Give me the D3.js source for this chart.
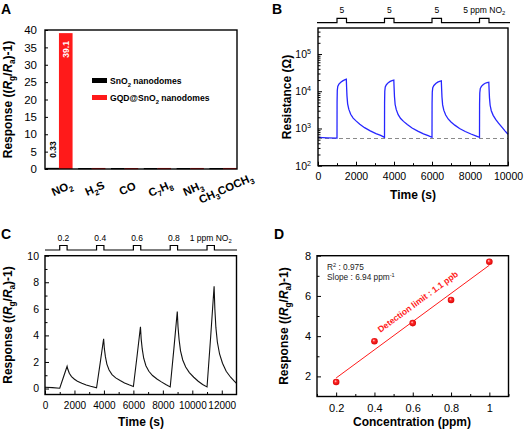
<!DOCTYPE html>
<html><head><meta charset="utf-8">
<script src="https://cdn.jsdelivr.net/npm/d3@7"></script>
<style>body{margin:0;background:#fff}svg{display:block}</style>
</head><body><svg id="c" width="524" height="431"></svg>
<script>
// ---------------- DATA ----------------
// Panel A
const gasLabels = ["NO_2","H_2S","CO","C_7H_8","NH_3","CH_3COCH_3"];
const sno2Values = [0.33, 0.15, 0.12, 0.12, 0.12, 0.12];
const gqdValues = [39.1, 0.3, 0.25, 0.3, 0.3, 0.3];
const legendNames = ["SnO_2 nanodomes", "GQD@SnO_2 nanodomes"];
const aYTicks = [0,5,10,15,20,25,30,35,40];
// Panel B
const bTime = [0,500,1000,
 1004,1015,1040,1100,1200,1300,1400,1490,1505,1525,1560,1620,1720,1850,2000,2200,2450,2750,3050,3300,3500,
 3504,3515,3540,3600,3700,3800,3900,3990,4005,4025,4060,4120,4220,4350,4500,4700,4950,5250,5550,5800,6000,
 6004,6015,6040,6100,6200,6300,6400,6490,6505,6525,6560,6620,6720,6850,7000,7200,7450,7750,8050,8300,8500,
 8504,8515,8540,8600,8700,8800,8900,8990,9005,9025,9060,9120,9220,9350,9500,9700,9850,10000];
const bResistance = [575,560,548,
 5000,10500,13500,15500,17500,19000,20200,21000,13000,7500,4600,3300,2400,1900,1600,1300,1050,860,730,650,575,
 4800,10000,13000,15000,17000,18400,19400,20000,12500,7200,4400,3200,2350,1850,1550,1270,1030,850,720,640,580,
 4600,9500,12500,14300,16200,17600,18500,19000,12000,7000,4300,3100,2300,1800,1500,1230,1000,830,710,630,575,
 4400,9000,11800,13500,15200,16400,17100,17500,11200,6700,4200,3000,2250,1750,1400,1050,850,700];
const bBaseline = 540;
const bPulseStarts = [1000,3500,6000,8500];
const bPulseLabels = ["5","5","5","5 ppm NO_2"];
const bXTicks = [0,2000,4000,6000,8000,10000];
const bYTicks = [1e2,1e3,1e4,1e5];
// Panel C
const cTime = [0,500,1000,1250,1500,1550,1650,1800,2000,2200,2500,2800,3100,3500,
 3750,3980,4030,4100,4200,4350,4550,4800,5100,5400,5700,6000,
 6250,6480,6530,6600,6700,6850,7050,7300,7600,7900,8200,8500,
 8750,8980,9030,9100,9200,9350,9550,9800,10100,10400,10700,11000,
 11250,11480,11530,11600,11700,11850,12050,12300,12600,12850,13000];
const cResponse = [0.1,0.07,0.02,0.85,1.68,1.45,1.15,0.9,0.7,0.55,0.4,0.27,0.17,0.05,
 1.95,3.75,3.0,2.4,1.84,1.39,1.05,0.8,0.6,0.42,0.28,0.15,
 2.45,4.65,3.72,2.98,2.28,1.72,1.3,0.98,0.72,0.5,0.3,0.12,
 3.0,5.8,4.64,3.71,2.84,2.15,1.62,1.2,0.85,0.55,0.3,0.12,
 3.95,7.7,6.0,4.6,3.5,2.6,1.9,1.3,0.85,0.55,0.38];
const cPulseStarts = [1000,3500,6000,8500,11000];
const cPulseLabels = ["0.2","0.4","0.6","0.8","1 ppm NO_2"];
const cXTicks = [0,2000,4000,6000,8000,10000,12000];
const cYTicks = [0,2,4,6,8,10];
// Panel D
const dConc = [0.2,0.4,0.6,0.8,1.0];
const dResponse = [1.72,3.75,4.65,5.8,7.7];
const dXTicks = [0.2,0.4,0.6,0.8,1];
const dYTicks = [2,4,6,8];

// ---------------- HELPERS ----------------
const FONT = "Arial, 'Liberation Sans', Helvetica, sans-serif";
const svg = d3.select("#c").attr("font-family", FONT);
const fmtInt = d3.format("d"), fmtG = d3.format("~g");

function parseRich(str){ // _x subscript, ^x superscript (^{..} group)
  const segs=[]; let buf="";
  for(let i=0;i<str.length;i++){
    const ch=str[i];
    if(ch==="_"||ch==="^"){
      if(buf){segs.push([buf,"n"]);buf="";}
      let t;
      if(str[i+1]==="{"){const j=str.indexOf("}",i);t=str.slice(i+2,j);i=j;}
      else {t=str[i+1];i++;}
      segs.push([t, ch==="_"?"sub":"sup"]);
    } else buf+=ch;
  }
  if(buf) segs.push([buf,"n"]);
  return segs;
}
function rich(sel, segs, size){
  let shift=0;
  segs.forEach(([t,s])=>{
    const ts=sel.append("tspan").text(t);
    let target=0;
    if(s==="sub") target=size*0.28;
    if(s==="sup") target=-size*0.38;
    const dy=target-shift;
    if(dy) ts.attr("dy",dy);
    shift=target;
    if(s==="sub"||s==="sup") ts.attr("font-size",size*0.68);
    if(s==="i") ts.attr("font-style","italic");
  });
  return sel;
}
function label(x,y,str,size,opts={}){
  const t=svg.append("text").attr("x",x).attr("y",y).attr("font-size",size)
    .attr("text-anchor",opts.anchor||"start").attr("font-weight",opts.bold?"bold":"normal")
    .attr("fill",opts.fill||"#000");
  if(opts.rotate!==undefined) t.attr("transform",`rotate(${opts.rotate},${x},${y})`);
  if(Array.isArray(str)) rich(t,str,size); else rich(t,parseRich(str),size);
  return t;
}
const responseTitle = [["Response ((","n"],["R","i"],["g","sub"],["/","n"],["R","i"],["a","sub"],[")-1)","n"]];
function axis(gen, transform, fs){
  const a=svg.append("g").attr("transform",transform).call(gen);
  a.attr("font-size",fs).attr("font-family",FONT);
  a.select(".domain").remove();
  a.selectAll("text").attr("fill","#000");
  a.selectAll("line").attr("stroke","#000").attr("stroke-width",1);
  return a;
}
function frame(x0,x1,y0,y1){
  svg.append("rect").attr("x",x0).attr("y",y0).attr("width",x1-x0).attr("height",y1-y0)
    .attr("fill","none").attr("stroke","#000").attr("stroke-width",1.4);
}
function pulses(x, starts, dur, labels, yLine, yHigh, x0, x1, labelY){
  let p=`M${x0},${yLine}`;
  starts.forEach(s=>{p+=`L${x(s)},${yLine}L${x(s)},${yHigh}L${x(s+dur)},${yHigh}L${x(s+dur)},${yLine}`;});
  p+=`L${x1},${yLine}`;
  svg.append("path").attr("d",p).attr("fill","none").attr("stroke","#000").attr("stroke-width",1.2);
  starts.forEach((s,i)=>label(x(s+dur/2),labelY,labels[i],8.5,{anchor:"middle"}));
}

// ---------------- PANEL A ----------------
{
  const x=d3.scaleBand().domain(gasLabels).range([45,237]).paddingInner(0.17).paddingOuter(0.01);
  const xs=d3.scaleBand().domain([0,1]).range([0,x.bandwidth()]);
  const y=d3.scaleLinear().domain([0,40]).range([169,30]);
  const colors=["#000000","#ff1a1a"];
  [sno2Values,gqdValues].forEach((vals,k)=>{
    svg.append("g").selectAll("rect").data(gasLabels).join("rect")
      .attr("x",d=>x(d)+xs(k)).attr("width",xs.bandwidth())
      .attr("y",(d,i)=>Math.min(y(vals[i]),168))
      .attr("height",(d,i)=>Math.max(169-y(vals[i]),1.2))
      .attr("fill",colors[k]);
  });
  frame(45,237,30,169);
  axis(d3.axisLeft(y).tickValues(aYTicks).tickSize(-3).tickPadding(8),"translate(45,0)",11.5);
  // value labels
  label(x(gasLabels[0])+xs(0)+xs.bandwidth()/2+3.5, y(sno2Values[0])-10, "0.33", 8.5,{bold:true,rotate:-90});
  label(x(gasLabels[0])+xs(1)+xs.bandwidth()/2+3.5, y(gqdValues[0])+8, "39.1", 8.5,{bold:true,rotate:-90,anchor:"end",fill:"#fff"});
  // x labels
  gasLabels.forEach(g=>label(x(g)+x.bandwidth()/2+4.5,192,g,11.3,{bold:true,anchor:"middle",rotate:-24}));
  // legend
  [0,1].forEach(k=>{
    svg.append("rect").attr("x",92).attr("y",78+k*17).attr("width",15).attr("height",5).attr("fill",colors[k]);
    label(110,84.3+k*17,legendNames[k],8.6,{bold:true});
  });
  label(12,99.5,responseTitle,12,{bold:true,anchor:"middle",rotate:-90});
  label(1,14,"A",14,{bold:true});
}

// ---------------- PANEL B ----------------
{
  const x=d3.scaleLinear().domain([0,10000]).range([318,508]);
  const y=d3.scaleLog().domain([1e2,5e5]).range([165.7,28]);
  svg.append("line").attr("x1",318).attr("x2",508).attr("y1",y(bBaseline)).attr("y2",y(bBaseline))
    .attr("stroke","#8a8a8a").attr("stroke-width",1.1).attr("stroke-dasharray","4,3");
  const pts=bTime.map((t,i)=>[t,bResistance[i]]);
  svg.append("path").attr("d",d3.line().x(d=>x(d[0])).y(d=>y(d[1]))(pts))
    .attr("fill","none").attr("stroke","#2626ff").attr("stroke-width",1.3);
  frame(318,508,28,165.7);
  axis(d3.axisBottom(x).tickValues(bXTicks).tickSize(-4).tickPadding(7).tickFormat(fmtInt),"translate(0,165.7)",10.5);
  axis(d3.axisBottom(x).tickValues([1000,3000,5000,7000,9000]).tickSize(-2.5).tickFormat(""),"translate(0,165.7)",10.5);
  const minor=[];
  [2,3,4,5].forEach(e=>{for(let m=2;m<=9;m++){const v=m*Math.pow(10,e);if(v<5e5) minor.push(v);}});
  axis(d3.axisLeft(y).tickValues(bYTicks).tickSize(-4).tickFormat(""),"translate(318,0)",10.5);
  axis(d3.axisLeft(y).tickValues(minor).tickSize(-2.5).tickFormat(""),"translate(318,0)",10.5);
  bYTicks.forEach(v=>label(311,y(v)+4,"10^"+Math.round(Math.log10(v)),10.5,{anchor:"end"}));
  pulses(x,bPulseStarts,500,bPulseLabels,22.7,18.3,317,510,12.8);
  label(413,199,"Time (s)",12,{bold:true,anchor:"middle"});
  label(291,97,"Resistance (Ω)",12,{bold:true,anchor:"middle",rotate:-90});
  label(272,14,"B",14,{bold:true});
}

// ---------------- PANEL C ----------------
{
  const x=d3.scaleLinear().domain([0,13000]).range([45,236.5]);
  const y=d3.scaleLinear().domain([-0.45,10]).range([394.5,255.7]);
  const pts=cTime.map((t,i)=>[t,cResponse[i]]);
  svg.append("path").attr("d",d3.line().x(d=>x(d[0])).y(d=>y(d[1]))(pts))
    .attr("fill","none").attr("stroke","#111").attr("stroke-width",1.1);
  frame(45,236.5,255.7,394.5);
  axis(d3.axisBottom(x).tickValues(cXTicks).tickSize(-4).tickPadding(7).tickFormat(fmtInt),"translate(0,394.5)",10);
  axis(d3.axisBottom(x).tickValues([1000,3000,5000,7000,9000,11000]).tickSize(-2.5).tickFormat(""),"translate(0,394.5)",10);
  axis(d3.axisLeft(y).tickValues(cYTicks).tickSize(-4).tickPadding(6).tickFormat(fmtInt),"translate(45,0)",10.5);
  axis(d3.axisLeft(y).tickValues([1,3,5,7,9]).tickSize(-2.5).tickFormat(""),"translate(45,0)",10.5);
  pulses(x,cPulseStarts,500,cPulseLabels,250,245.5,45,237,241);
  label(141,426,"Time (s)",12,{bold:true,anchor:"middle"});
  label(12,325,responseTitle,12,{bold:true,anchor:"middle",rotate:-90});
  label(1,239,"C",14,{bold:true});
}

// ---------------- PANEL D ----------------
{
  const x=d3.scaleLinear().domain([0.1,1.1]).range([317,508.5]);
  const y=d3.scaleLinear().domain([1,8]).range([396.5,255.7]);
  const defs=svg.append("defs");
  const gr=defs.append("radialGradient").attr("id","ball").attr("cx","50%").attr("cy","50%").attr("r","55%").attr("fx","38%").attr("fy","35%");
  gr.append("stop").attr("offset","0%").attr("stop-color","#ffe0e0");
  gr.append("stop").attr("offset","35%").attr("stop-color","#ff2a2a");
  gr.append("stop").attr("offset","100%").attr("stop-color","#d40000");
  // least-squares fit
  const mx=d3.mean(dConc), my=d3.mean(dResponse);
  const slope=d3.sum(dConc.map((c,i)=>(c-mx)*(dResponse[i]-my)))/d3.sum(dConc.map(c=>(c-mx)*(c-mx)));
  const icpt=my-slope*mx;
  svg.append("line").attr("x1",x(0.2)).attr("x2",x(1)).attr("y1",y(icpt+slope*0.2)).attr("y2",y(icpt+slope*1))
    .attr("stroke","#ff1a1a").attr("stroke-width",1);
  svg.append("g").selectAll("circle").data(dConc).join("circle")
    .attr("cx",d=>x(d)).attr("cy",(d,i)=>y(dResponse[i])).attr("r",3.3).attr("fill","url(#ball)");
  frame(317,508.5,255.7,396.5);
  axis(d3.axisBottom(x).tickValues(dXTicks).tickSize(-4).tickPadding(8).tickFormat(fmtG),"translate(0,396.5)",11);
  axis(d3.axisBottom(x).tickValues([0.1,0.3,0.5,0.7,0.9,1.1]).tickSize(-2.5).tickFormat(""),"translate(0,396.5)",11);
  axis(d3.axisLeft(y).tickValues(dYTicks).tickSize(-4).tickPadding(6).tickFormat(fmtG),"translate(317,0)",11);
  axis(d3.axisLeft(y).tickValues([3,5,7]).tickSize(-2.5).tickFormat(""),"translate(317,0)",11);
  label(327,270,"R^2 : 0.975",8.3,{fill:"#222"});
  label(327,280,"Slope : 6.94 ppm^{-1}",8.3,{fill:"#222"});
  const c0=0.667, px=x(c0), py=y(icpt+slope*c0);
  const ang=-Math.atan((y(icpt+slope*0.2)-y(icpt+slope*1))/(x(1)-x(0.2)))*180/Math.PI;
  svg.append("text").attr("transform",`translate(${px},${py}) rotate(${ang})`).attr("y",-10)
    .attr("text-anchor","middle").attr("font-size",8.6).attr("font-weight","bold").attr("fill","#ff1a1a")
    .text("Detection limit : 1.1 ppb");
  label(412,426,"Concentration (ppm)",12,{bold:true,anchor:"middle"});
  label(288,326,responseTitle,12,{bold:true,anchor:"middle",rotate:-90});
  label(274,239,"D",14,{bold:true});
}
</script></body></html>
